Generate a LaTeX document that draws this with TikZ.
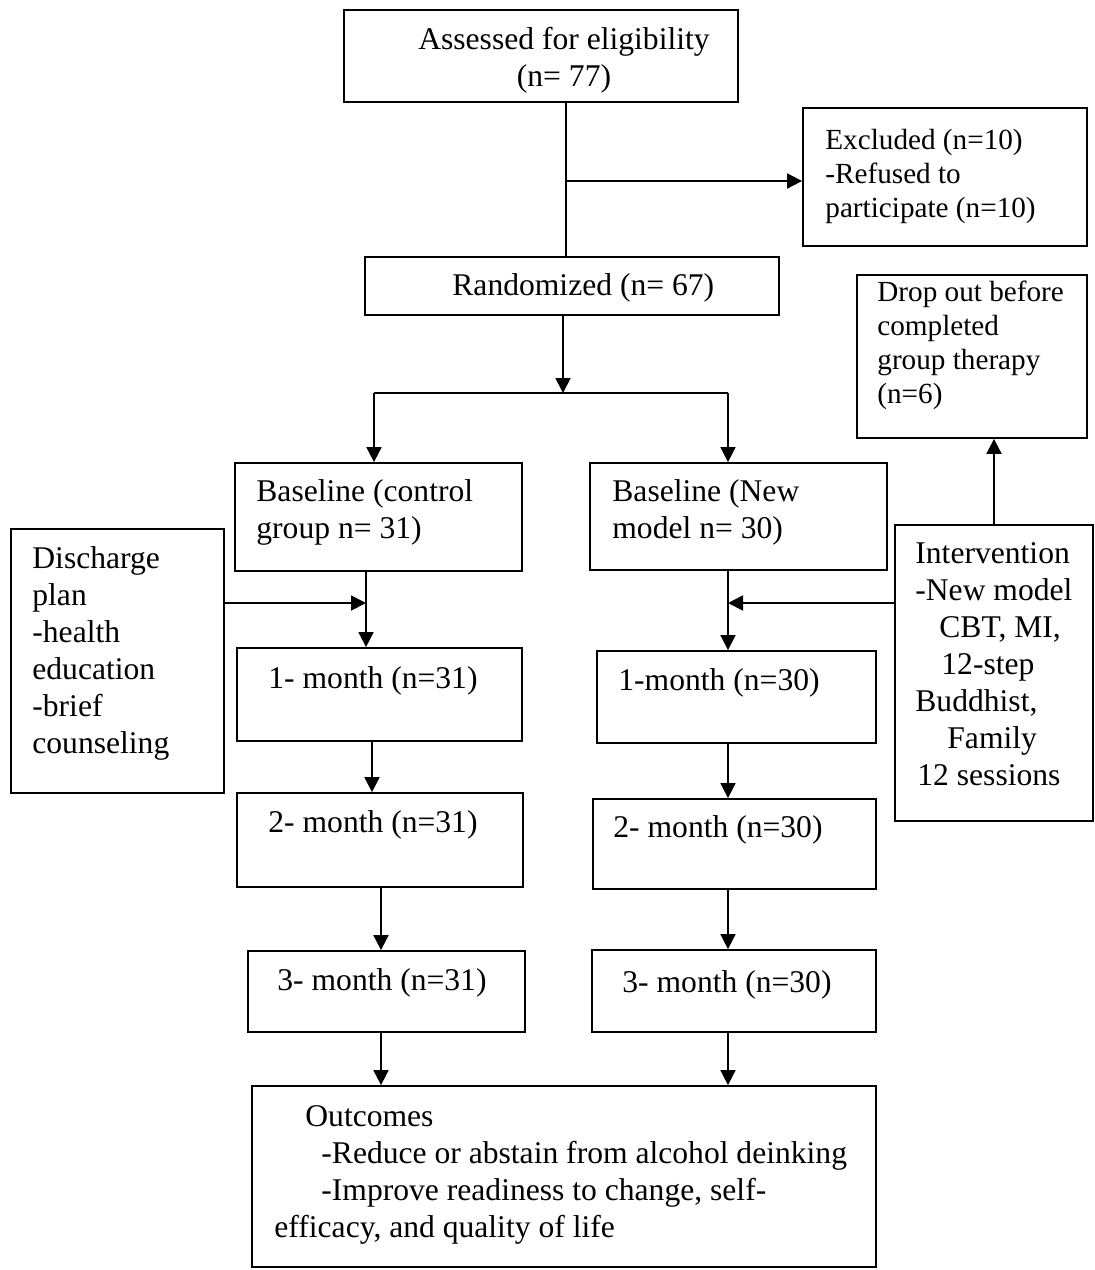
\documentclass[tikz,border=0pt]{standalone}
\usepackage{fontspec}
\setmainfont{Liberation Serif}
\usetikzlibrary{arrows.meta,fit,positioning}

\newcommand{\bigfont}{\fontsize{15.8pt}{18.5pt}\selectfont}
\newcommand{\smallfont}{\fontsize{14.6pt}{16.9pt}\selectfont}

\tikzset{
  box/.style={draw, rectangle, inner sep=0pt, line width=0.9pt},
  txt/.style={inner sep=0pt, align=left, anchor=base west, font=\bigfont},
  stxt/.style={txt, font=\smallfont},
  flow/.style={-{Triangle[length=7.5pt,width=7.5pt]}, line width=0.9pt},
  link/.style={line width=0.9pt},
}

\begin{document}
\begin{tikzpicture}[x=0.5pt, y=-0.5pt]
\useasboundingbox (0,0) rectangle (1094,1270);

% boxes
\node[box, fit={(344,10) (738,102)}] (elig) {};
\node[box, fit={(803,108) (1087,246)}] (excl) {};
\node[box, fit={(365,257) (779,315)}] (rand) {};
\node[box, fit={(857,275) (1087,438)}] (drop) {};
\node[box, fit={(235,463) (522,571)}] (ctl0) {};
\node[box, fit={(590,463) (887,570)}] (new0) {};
\node[box, fit={(11,529) (224,793)}] (disch) {};
\node[box, fit={(895,525) (1093,821)}] (interv) {};
\node[box, fit={(237,648) (522,741)}] (ctl1) {};
\node[box, fit={(597,651) (876,743)}] (new1) {};
\node[box, fit={(237,793) (523,887)}] (ctl2) {};
\node[box, fit={(593,799) (876,889)}] (new2) {};
\node[box, fit={(248,951) (525,1032)}] (ctl3) {};
\node[box, fit={(592,950) (876,1032)}] (new3) {};
\node[box, fit={(252,1086) (876,1267)}] (outc) {};

% texts (base = last line)
\node[txt, anchor=base, align=center] (elig-t) at (564,86) {Assessed for eligibility\\(n= 77)};
\node[stxt] (excl-t) at (825,217) {Excluded (n=10)\\-Refused to\\participate (n=10)};
\node[txt] (rand-t) at (452,295) {Randomized (n= 67)};
\node[stxt] (drop-t) at (877,403) {Drop out before\\completed\\group therapy\\(n=6)};
\node[txt] (ctl0-t) at (256,538) {Baseline (control\\group n= 31)};
\node[txt] (new0-t) at (612,538) {Baseline (New\\model n= 30)};
\node[txt] (disch-t) at (32,753) {Discharge\\plan\\-health\\education\\-brief\\counseling};
\node[txt] (interv-t) at (915,785) {Intervention\\-New model\\\hspace*{12pt}CBT, MI,\\\hspace*{13pt}12-step\\Buddhist,\\\hspace*{16pt}Family\\\hspace*{1pt}12 sessions};
\node[txt] (ctl1-t) at (268,688) {1- month (n=31)};
\node[txt] (new1-t) at (618,690) {1-month (n=30)};
\node[txt] (ctl2-t) at (268,832) {2- month (n=31)};
\node[txt] (new2-t) at (613,837) {2- month (n=30)};
\node[txt] (ctl3-t) at (277,990) {3- month (n=31)};
\node[txt] (new3-t) at (622,992) {3- month (n=30)};
\node[txt] (outc-t) at (274,1237) {\hspace*{15.5pt}Outcomes\\\hspace*{23.5pt}-Reduce or abstain from alcohol deinking\\\hspace*{23.5pt}-Improve readiness to change, self-\\efficacy, and quality of life};

% junction points
\coordinate (split) at (566,181);
\coordinate (fork) at (563,393);
\coordinate (forkL) at (374,393);
\coordinate (forkR) at (728,393);
\coordinate (joinL) at (366,603);
\coordinate (joinR) at (728,603);
\coordinate (tapL) at (372,742);
\coordinate (tapL2) at (381,888);

% connectors
\draw[link] (elig.south -| split) -- (rand.north -| split);
\draw[flow] (split) -- (split -| excl.west);
\draw[flow] (rand.south -| fork) -- (fork);
\draw[link] (forkL) -- (forkR);
\draw[flow] (forkL) -- (forkL |- ctl0.north);
\draw[flow] (forkR) -- (forkR |- new0.north);

\draw[flow] (joinL |- ctl0.south) -- (joinL |- ctl1.north);
\draw[flow] (disch.east |- joinL) -- (joinL);
\draw[flow] (tapL |- ctl1.south) -- (tapL |- ctl2.north);
\draw[flow] (tapL2 |- ctl2.south) -- (tapL2 |- ctl3.north);
\draw[flow] (tapL2 |- ctl3.south) -- (tapL2 |- outc.north);

\draw[flow] (joinR |- new0.south) -- (joinR |- new1.north);
\draw[flow] (interv.west |- joinR) -- (joinR);
\draw[flow] (interv.north) -- (interv.north |- drop.south);
\draw[flow] (joinR |- new1.south) -- (joinR |- new2.north);
\draw[flow] (joinR |- new2.south) -- (joinR |- new3.north);
\draw[flow] (joinR |- new3.south) -- (joinR |- outc.north);
\end{tikzpicture}
\end{document}
